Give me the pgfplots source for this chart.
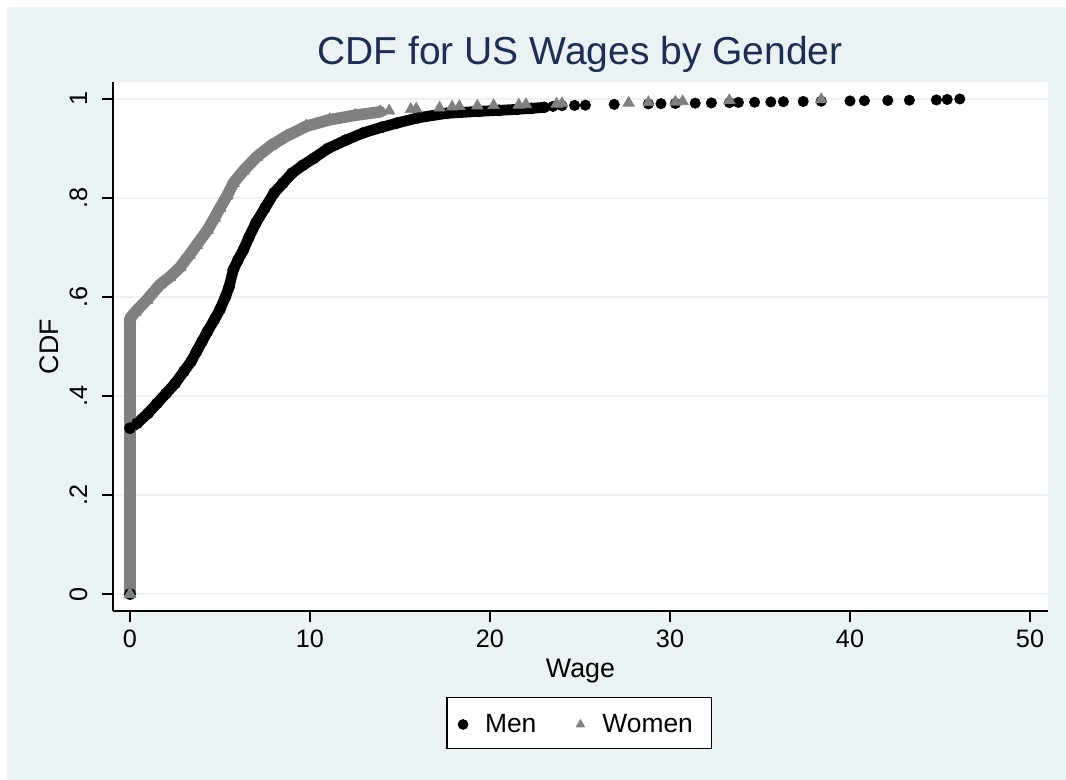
\documentclass[border=0pt]{standalone}
\usepackage{fontspec}
\setmainfont{Liberation Sans}
\usepackage{pgfplots}
\pgfplotsset{compat=1.18}
\definecolor{stbg}{RGB}{234,242,243}
\definecolor{sttitle}{RGB}{30,45,85}
\definecolor{stgray}{RGB}{128,128,128}

\pgfplotstableread{
x y
0 0
0 0.335
0.4 0.345
1.0 0.365
1.5 0.385
2.0 0.405
2.5 0.425
3.0 0.45
3.4 0.47
3.7 0.49
4.0 0.51
4.3 0.53
4.7 0.555
5.0 0.575
5.3 0.60
5.5 0.62
5.74 0.655
6.0 0.675
6.3 0.695
6.6 0.72
7.0 0.75
7.5 0.78
8.0 0.81
8.5 0.83
9.0 0.85
9.6 0.866
10.2 0.88
11.0 0.90
12.0 0.917
13.0 0.932
14.0 0.943
14.8 0.951
16.0 0.962
17.6 0.971
19.4 0.975
20.5 0.977
21.5 0.979
22.3 0.981
23.0 0.983
}\menband

\pgfplotstableread{
x y
23.5 0.985
24.0 0.9865
24.7 0.987
25.3 0.9875
26.9 0.989
28.8 0.990
29.5 0.9905
30.3 0.991
31.4 0.9915
32.3 0.992
33.3 0.9925
33.8 0.993
34.7 0.9935
35.6 0.994
36.3 0.9945
37.4 0.995
38.4 0.9955
40.0 0.996
40.8 0.9965
42.1 0.997
43.3 0.9975
44.8 0.998
45.4 0.999
46.1 1.0
}\mentail

\pgfplotstableread{
x y
0 0
0 0.557
0.3 0.57
0.93 0.594
1.67 0.625
2.2 0.64
2.78 0.66
3.3 0.685
3.7 0.705
4.3 0.735
4.7 0.76
5.0 0.78
5.4 0.805
5.74 0.83
6.3 0.855
7.04 0.883
7.8 0.905
8.7 0.925
9.8 0.945
11.1 0.958
12.5 0.967
13.9 0.974
}\womenband

\pgfplotstableread{
x y
14.4 0.976
15.6 0.979
15.9 0.980
17.2 0.982
17.9 0.984
18.3 0.985
19.3 0.986
20.2 0.987
21.6 0.988
22.0 0.989
23.7 0.990
24.0 0.991
27.7 0.992
28.8 0.993
30.3 0.994
30.7 0.995
33.3 0.997
38.4 0.999
}\womentail

\begin{document}
\begin{tikzpicture}[x=1pt,y=1pt]
\path[use as bounding box] (0,0) rectangle (533,390);
\fill[white] (0,0) rectangle (533,390);
\fill[stbg] (3.5,0) rectangle (533,386.5);
\node[anchor=base, text=sttitle, font=\fontsize{19.5}{23}\selectfont, inner sep=0pt] at (290,357.5) {CDF for US Wages by Gender};
\begin{axis}[
  at={(56.5pt,84.5pt)}, anchor=south west,
  scale only axis, width=467.5pt, height=264.5pt,
  xmin=-0.944, xmax=51, ymin=-0.0343, ymax=1.0343,
  axis x line*=bottom, axis y line*=left,
  axis line style={line width=0.6pt, -},
  axis background/.style={fill=white},
  xtick={0,10,20,30,40,50}, xticklabels={0,10,20,30,40,50},
  ytick={0,0.2,0.4,0.6,0.8,1}, yticklabels={0,.2,.4,.6,.8,1},
  tick align=outside, major tick length=5.5pt,
  tick style={line width=0.6pt, black},
  ymajorgrids, major grid style={stbg, line width=1pt},
  xticklabel shift=12.8pt, yticklabel shift=7.5pt,
  xticklabel style={font=\fontsize{12.6}{15}\selectfont, anchor=base, inner sep=0pt},
  yticklabel style={font=\fontsize{12.6}{15}\selectfont, rotate=90, anchor=base, inner sep=0pt},
  xlabel={Wage}, ylabel={CDF},
  xlabel style={font=\fontsize{13.4}{16}\selectfont, at={(axis description cs:0.5,-0.1248)}, anchor=base, inner sep=0pt},
  ylabel style={font=\fontsize{13.4}{16}\selectfont, at={(axis description cs:-0.0588,0.5)}, rotate=0, anchor=base, inner sep=0pt},
  legend columns=2,
  legend style={at={(0.4989,-0.2117)}, anchor=center, draw=black, line width=0.6pt, fill=white,
    font=\fontsize{13.2}{16}\selectfont, inner xsep=0pt, inner ysep=0pt,
    nodes={draw=none, fill=none, inner xsep=0pt, inner ysep=0pt},
    /tikz/every even column/.append style={column sep=14pt}},
  legend image code/.code={\path[draw=none, fill=none] (-8pt,-12pt) rectangle (11pt,13.5pt); \draw[#1, mark size=2.5pt] plot coordinates {(0pt,0pt)};},
]
\addplot[black, line width=5.4pt, line join=round, line cap=round, mark=*, mark size=2.8pt, mark options={line width=0.3pt}, forget plot] table {\menband};
\addplot[black, only marks, mark=*, mark size=2.6pt, mark options={line width=0.3pt}] table {\mentail};
\addplot[stgray, line width=5.8pt, line join=round, line cap=round, mark=triangle*, mark size=3.5pt, mark options={line width=0.3pt}, forget plot] table {\womenband};
\addplot[stgray, only marks, mark=triangle*, mark size=3.3pt, mark options={line width=0.3pt}] table {\womentail};
\legend{Men, Women\hspace*{9.5pt}}
\end{axis}
\end{tikzpicture}
\end{document}
